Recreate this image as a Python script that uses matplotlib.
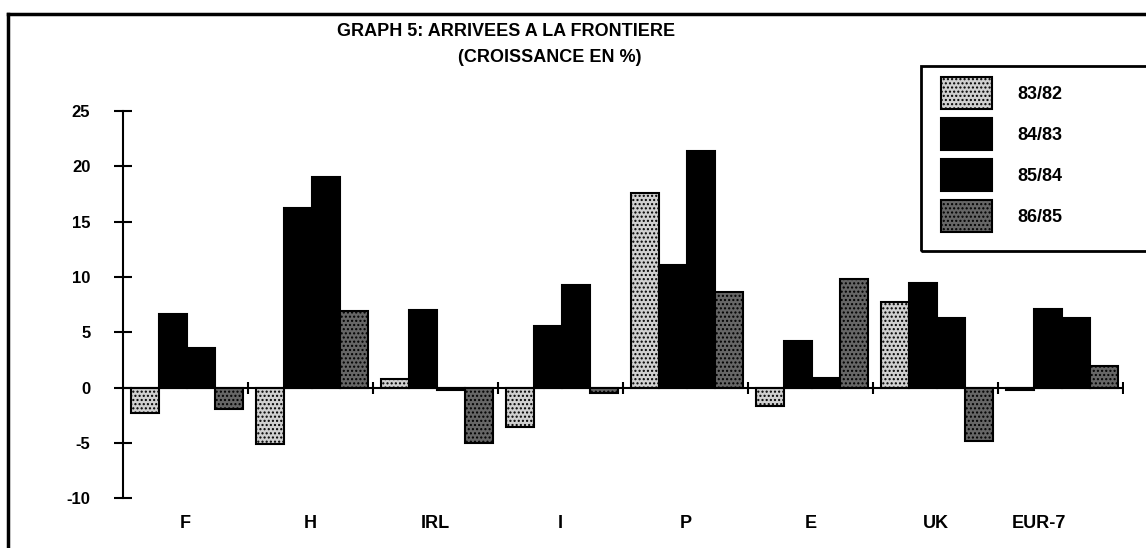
import matplotlib
matplotlib.use("Agg")
import matplotlib.pyplot as plt
from matplotlib.patches import Rectangle
from matplotlib.lines import Line2D
from matplotlib.transforms import ScaledTranslation
import numpy as np

plt.rcParams['font.family'] = ['Liberation Sans', 'DejaVu Sans']
plt.rcParams['font.weight'] = 'bold'
plt.rcParams['hatch.linewidth'] = 1.0
plt.rcParams['axes.unicode_minus'] = False

countries = ["F", "H", "IRL", "I", "P", "E", "UK", "EUR-7"]
periods = ["83/82", "84/83", "85/84", "86/85"]
v_83_82 = [-2.3, -5.1, 0.8, -3.6, 17.6, -1.7, 7.7, -0.2]
v_84_83 = [6.7, 16.2, 7.0, 5.6, 11.1, 4.2, 9.5, 7.1]
v_85_84 = [3.6, 19.0, -0.2, 9.3, 21.4, 0.9, 6.3, 6.3]
v_86_85 = [-1.9, 6.9, -5.0, -0.5, 8.6, 9.8, -4.8, 2.0]
series = [v_83_82, v_84_83, v_85_84, v_86_85]

faces = ['#d0d0d0', 'black', 'black', '#666666']
hatches = ['....', None, None, '....']

W, H = 1146, 548
fig = plt.figure(figsize=(W / 100, H / 100), dpi=100)
ax = fig.add_axes([123 / W, 1 - 498.3 / H, 1000 / W, (498.3 - 111) / H])

n = len(countries)
x = np.arange(n)
bw = 0.224
start = 0.065
bars = []
for i, vals in enumerate(series):
    b = ax.bar(x + start + i * bw, vals, width=bw, align='edge',
               color=faces[i], edgecolor='black', linewidth=1.5,
               hatch=hatches[i], label=periods[i])
    bars.append(b)

ax.set_xlim(0, n)
ax.set_ylim(-10, 25)
ax.axhline(0, color='black', lw=1.5, zorder=3)
ax.plot(np.arange(1, n + 1), np.zeros(n), ls='none', marker='|',
        ms=8, mew=1.5, color='black', zorder=3)

for s in ['top', 'right', 'bottom']:
    ax.spines[s].set_visible(False)
ax.spines['left'].set_linewidth(1.5)
ax.set_yticks([-10, -5, 0, 5, 10, 15, 20, 25])
ax.tick_params(axis='y', direction='inout', length=13, width=1.5,
               pad=17, labelsize=12)
ax.set_xticks(x + 0.5, countries)
ax.tick_params(axis='x', length=0, pad=12, labelsize=13)
# last category label sits a bit left of its group in the original
lab = ax.get_xticklabels()[-1]
lab.set_transform(lab.get_transform() +
                  ScaledTranslation(-0.22, 0, fig.dpi_scale_trans))

fig.text(506 / W, 1 - 31 / H, "GRAPH 5: ARRIVEES A LA FRONTIERE",
         ha='center', va='center', fontsize=13, fontweight='bold')
fig.text(550 / W, 1 - 57 / H, "(CROISSANCE EN %)",
         ha='center', va='center', fontsize=13, fontweight='bold')

fig.add_artist(Rectangle((921 / W, 1 - 251 / H), 300 / W, 185 / H,
                         transform=fig.transFigure, fill=False,
                         lw=2, edgecolor='black'))
fig.add_artist(Line2D([8 / W, 8 / W], [0, 1 - 14 / H],
                      transform=fig.transFigure, color='black', lw=2.5))
fig.add_artist(Line2D([8 / W, 1], [1 - 14 / H, 1 - 14 / H],
                      transform=fig.transFigure, color='black', lw=2.5))

fig.legend(handles=bars, loc='upper left',
           bbox_to_anchor=(941 / W, 1 - 77 / H), frameon=False,
           fontsize=13, handlelength=2.83, handleheight=2.35,
           labelspacing=0.5, handletextpad=1.4, borderpad=0,
           borderaxespad=0)

fig.savefig("out.png", dpi=100)
